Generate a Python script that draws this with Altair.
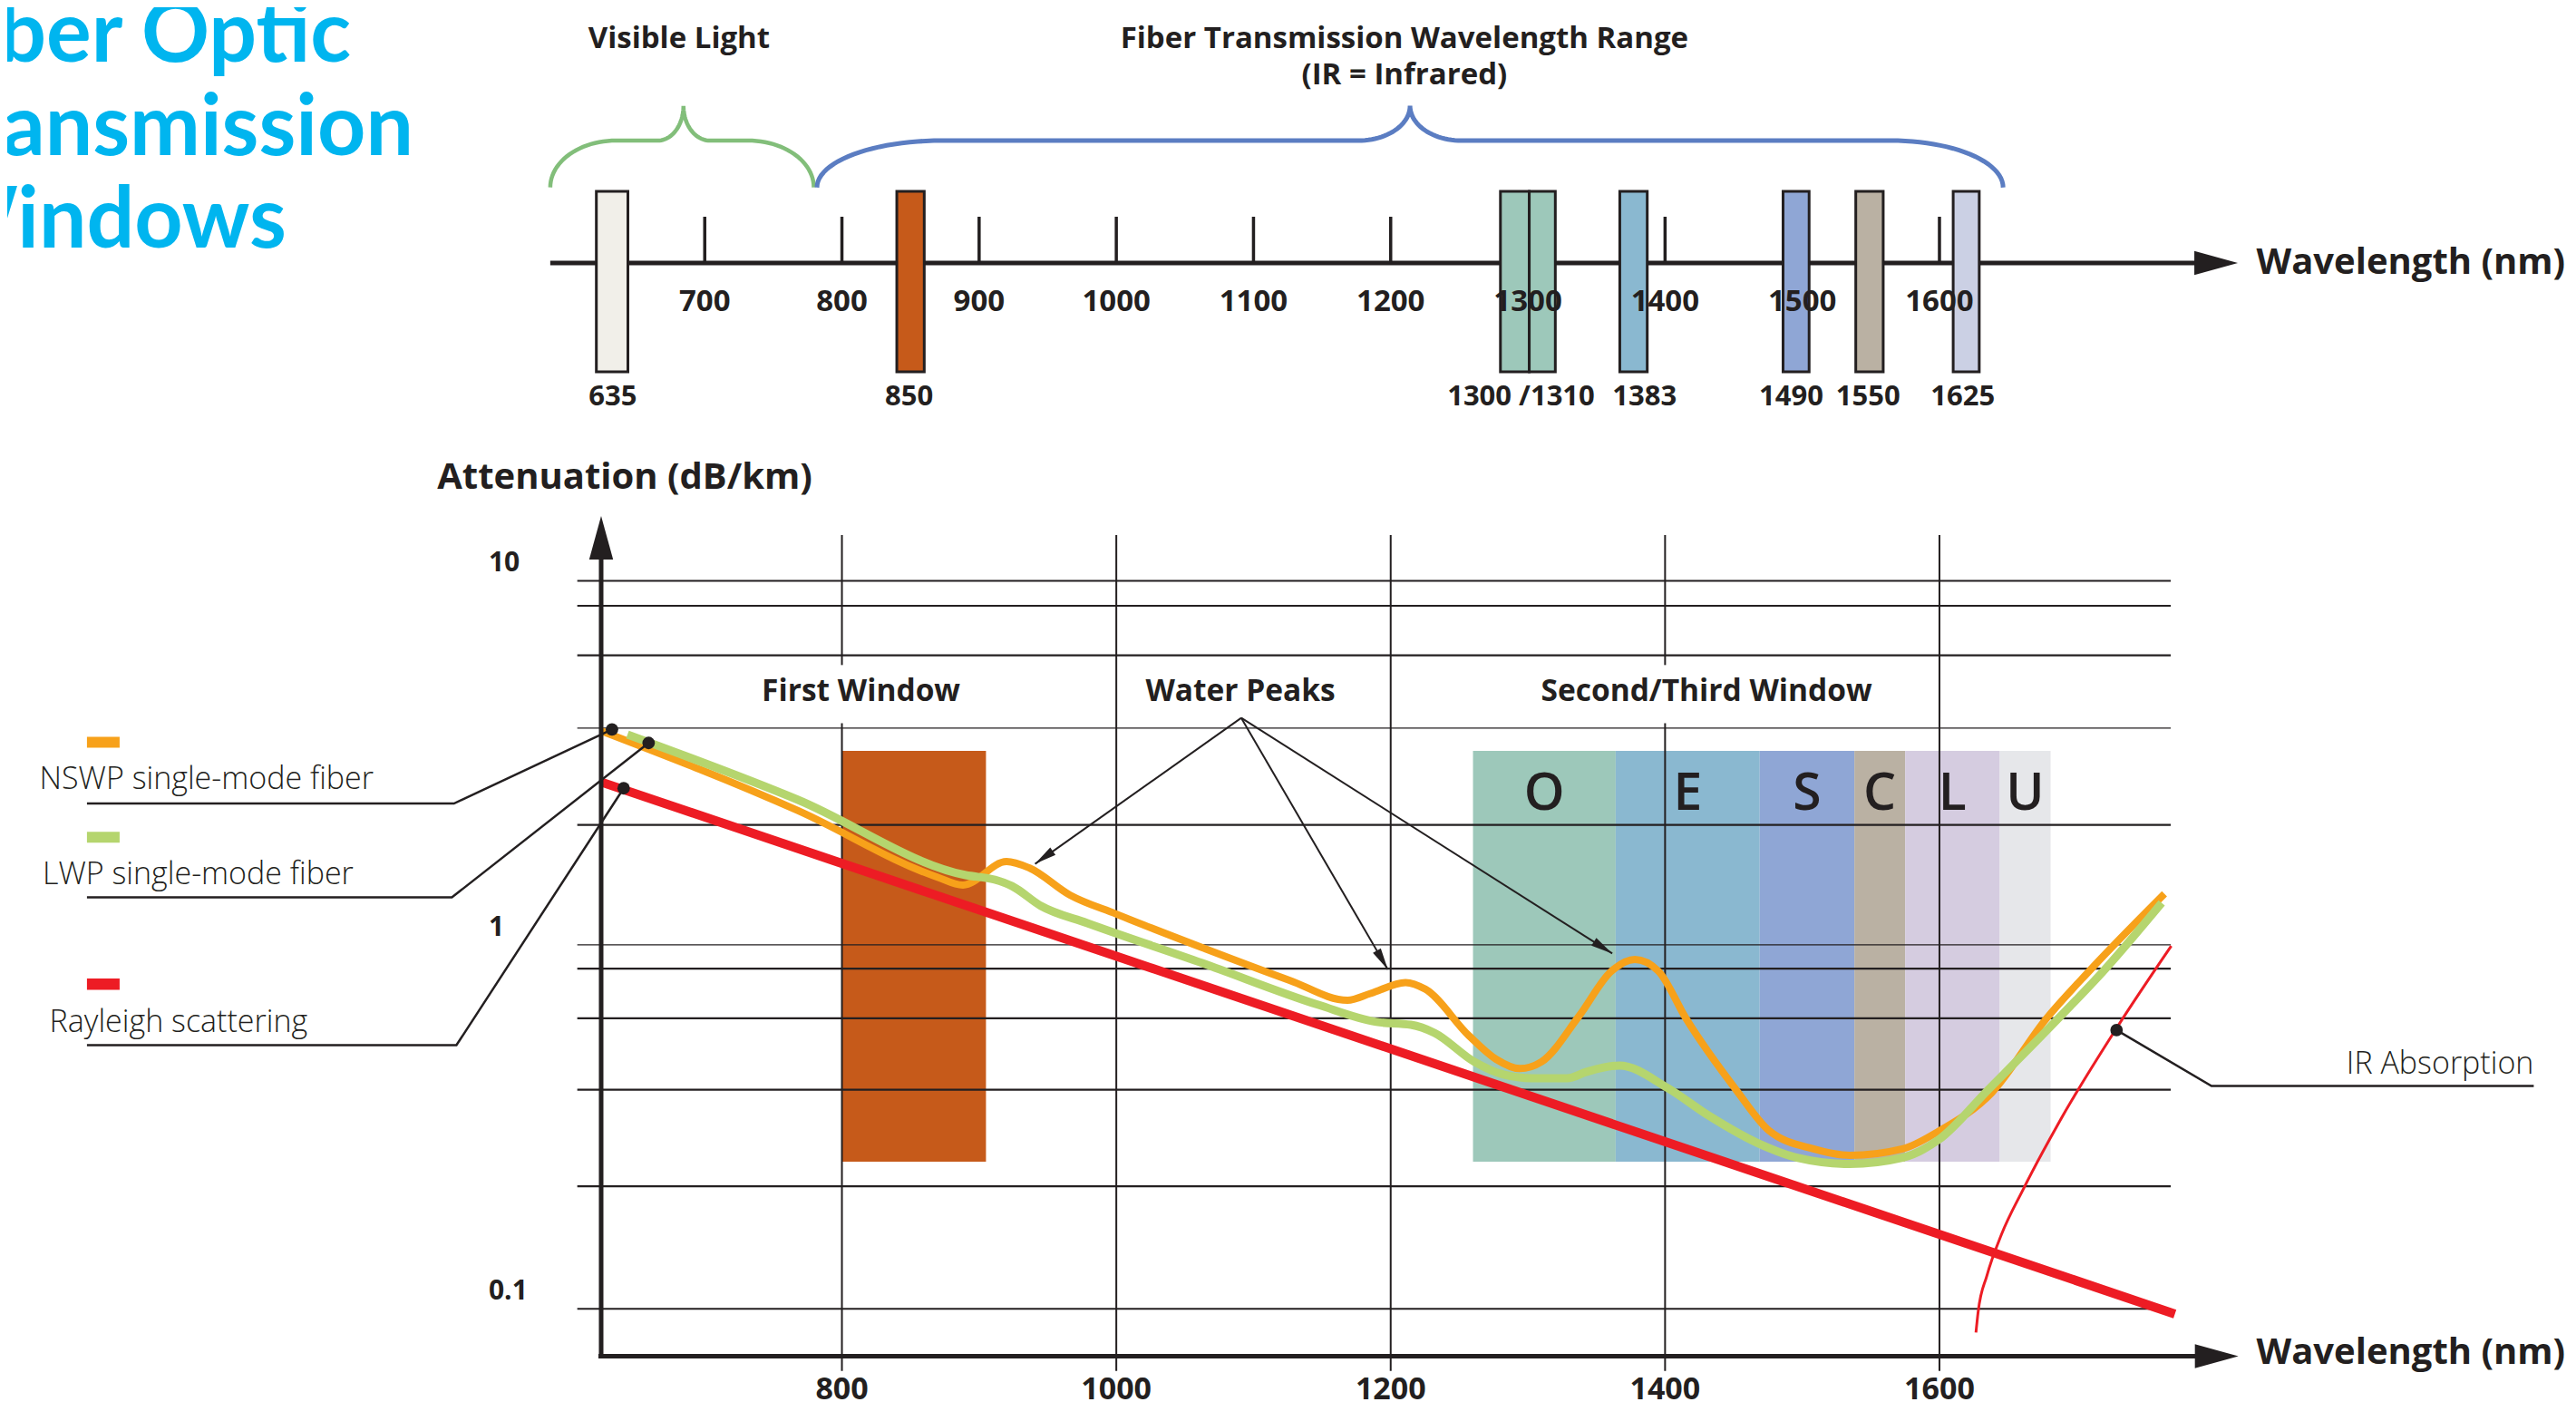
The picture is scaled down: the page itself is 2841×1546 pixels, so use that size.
import math
import altair as alt
import pandas as pd

# ---------------- canvas & scales ----------------
W, H = 2825, 1538
X_DOMAIN = [191.6, 2058.7]      # wavelength (nm) across the whole canvas
Y_DOMAIN = [0.05546, 376.5]     # attenuation (dB/km), log scale
S_DOMAIN = [-125.6, 28.2]       # layout units of the spectrum strip at the top

INK = "#231F20"
FONT = "Open Sans"

# ---------------- data ----------------
title_lines = ["Fiber Optic", "Transmission", "Windows"]

# spectrum strip
top_ticks = [700, 800, 900, 1000, 1100, 1200, 1300, 1400, 1500, 1600]
source_lo = [621, 840, 1280, 1301, 1367, 1486, 1539, 1610]
source_hi = [644, 860, 1301, 1320, 1387, 1505, 1559, 1629]
source_colors = ["#F1EFE9", "#C65A1A", "#9DC8BA", "#9DC8BA",
                 "#8AB8D0", "#8FA6D5", "#BAB1A3", "#CBD0E4"]
source_labels = ["635", "850", "1300 /1310", "1383", "1490", "1550", "1625"]
source_label_nm = [633, 849, 1295, 1385, 1492, 1548, 1617]
visible_range = [587.4, 779.5]
fiber_range = [781.8, 1646.4]

# attenuation chart
grid_db = [10, 8.54, 6.24, 3.94, 2.135, 1.0, 0.86, 0.628, 0.40, 0.217, 0.1]
grid_thin = [False, False, False, True, False, True, False, False, False, False, False]
grid_nm = [800, 1000, 1200, 1400, 1600]
y_labels = ["10", "1", "0.1"]
y_label_db = [10, 1, 0.1]

band_names = ["O", "E", "S", "C", "L", "U"]
band_lo = [1260, 1364, 1469, 1538, 1575, 1644]
band_hi = [1364, 1469, 1538, 1575, 1644, 1681]
band_colors = ["#9DC8BA", "#8AB8D0", "#8FA6D5", "#BAB1A3", "#D5CCE0", "#E6E7EA"]
first_window = [800, 905]
window_db = [0.2537, 3.411]

nswp_nm = [624.5, 768, 869.1, 888.2, 920, 936.5, 966.2, 999.9, 1062.7, 1126.2,
           1168.5, 1185.3, 1210.8, 1225.3, 1257, 1276.8, 1294.1, 1309.9, 1337,
           1360.8, 1378, 1395.2, 1415.3, 1452.1, 1475.7, 1508.2, 1534.6, 1573,
           1599.7, 1638, 1677.9, 1710.3, 1764]
nswp_db = [3.87, 2.336, 1.537, 1.459, 1.694, 1.627, 1.370, 1.215, 0.982, 0.799,
           0.704, 0.735, 0.788, 0.755, 0.563, 0.485, 0.457, 0.477, 0.635,
           0.846, 0.912, 0.846, 0.627, 0.398, 0.309, 0.275, 0.264, 0.275,
           0.308, 0.392, 0.627, 0.856, 1.381]

lwp_nm = [643.7, 768, 890.2, 911.4, 924, 945.1, 978.9, 1062.7, 1147.3, 1189.6,
          1214.7, 1231.9, 1261, 1282.2, 1303.3, 1328.4, 1342.9, 1366.6, 1402,
          1431.5, 1466.9, 1496.3, 1534.6, 1573, 1599.7, 1635.1, 1686.6, 1720.6, 1762]
lwp_db = [3.782, 2.502, 1.554, 1.510, 1.450, 1.279, 1.147, 0.891, 0.684, 0.614,
          0.603, 0.573, 0.477, 0.440, 0.430, 0.430, 0.448, 0.466, 0.404,
          0.340, 0.286, 0.260, 0.250, 0.260, 0.292, 0.398, 0.627, 0.856, 1.304]

rayleigh_nm = [624.5, 1771.6]
rayleigh_db = [2.80, 0.0968]

ir_nm = [1626.6, 1628.2, 1634.6, 1645.2, 1661.1, 1687.7, 1730.3, 1769]
ir_db = [0.0861, 0.0981, 0.1234, 0.160, 0.2131, 0.328, 0.600, 0.993]

legend_names = ["NSWP single-mode fiber", "LWP single-mode fiber", "Rayleigh scattering"]
legend_colors = ["#F7A11A", "#B5D56E", "#ED1C24"]
legend_anchor_nm = [632.4, 659.1, 640.9]     # where the leader touches each curve
legend_anchor_db = [3.907, 3.586, 2.692]

water_peak_origin = (1091.1, 4.201)
water_peak_nm = [940.8, 1197.9, 1361.5]
water_peak_db = [1.669, 0.856, 0.9465]

ir_anchor = (1729.1, 0.583)

# ---------------- helpers ----------------
XS = alt.Scale(domain=X_DOMAIN, nice=False, zero=False)
YS = alt.Scale(type="log", domain=Y_DOMAIN, nice=False)
SS = alt.Scale(domain=S_DOMAIN, nice=False, zero=False)


def ex(f="x"):
    return alt.X(f + ":Q", scale=XS, axis=None)


def ylog(f="y"):
    return alt.Y(f + ":Q", scale=YS, axis=None)


def ystrip(f="y"):
    return alt.Y(f + ":Q", scale=SS, axis=None)


def rects(df, yf, **mk):
    return alt.Chart(df).mark_rect(**mk).encode(
        x=ex("x"), x2="x2:Q", y=yf("y"), y2="y2:Q", color=alt.Color("c:N", scale=None))


def segs(df, yf, **mk):
    return alt.Chart(df).mark_rule(**mk).encode(x=ex("x"), x2="x2:Q", y=yf("y"), y2="y2:Q")


def poly(df, yf, **mk):
    return alt.Chart(df).mark_line(**mk).encode(x=ex("x"), y=yf("y"), order="i:Q", detail="g:N")


def texts(df, yf, **mk):
    base = dict(font=FONT, color=INK, baseline="alphabetic")
    base.update(mk)
    return alt.Chart(df).mark_text(**base).encode(x=ex("x"), y=yf("y"), text="t:N")


def heads(df, yf, shape, size):
    return alt.Chart(df).mark_point(shape=shape, filled=True, size=size, opacity=1,
                                    color=INK, strokeWidth=0).encode(
        x=ex("x"), y=yf("y"), angle=alt.Angle("a:Q", scale=None))


def to_px(nm, db):
    x = (nm - X_DOMAIN[0]) / (X_DOMAIN[1] - X_DOMAIN[0]) * W
    l0, l1 = math.log10(Y_DOMAIN[0]), math.log10(Y_DOMAIN[1])
    y = H - (math.log10(db) - l0) / (l1 - l0) * H
    return x, y


def heading(p, q):
    (x0, y0), (x1, y1) = to_px(*p), to_px(*q)
    return (math.degrees(math.atan2(x1 - x0, -(y1 - y0))) + 360) % 360


def brace(xl, xf0, xc0, xp, xc1, xf1, xr, s_end=8.33, s_flat=13.5, s_peak=17.33, n=24):
    pts = []
    for i in range(n + 1):
        t = i / n * math.pi / 2
        pts.append((xf0 - (xf0 - xl) * math.cos(t), s_end + (s_flat - s_end) * math.sin(t)))
    for i in range(n + 1):
        t = i / n * math.pi / 2
        pts.append((xc0 + (xp - xc0) * math.sin(t), s_peak - (s_peak - s_flat) * math.cos(t)))
    for i in range(n + 1):
        t = (1 - i / n) * math.pi / 2
        pts.append((xc1 - (xc1 - xp) * math.sin(t), s_peak - (s_peak - s_flat) * math.cos(t)))
    for i in range(n + 1):
        t = (1 - i / n) * math.pi / 2
        pts.append((xf1 + (xr - xf1) * math.cos(t), s_end + (s_flat - s_end) * math.sin(t)))
    return pts


ARROW = "M0,0L-0.55,2L0.55,2Z"
SMALL_ARROW = "M0,0L-0.42,2L0.42,2Z"

layers = []

# ================= spectrum strip (top) =================
title_df = pd.DataFrame({"x": [134.8] * 3, "y": [22.2, 11.9, 1.7], "t": title_lines})
layers.append(texts(title_df, ystrip, font="Lato", fontWeight="bold", fontSize=93,
                    color="#00B5EF", align="left"))

g_pts = brace(visible_range[0], 635.4, 665.8, 684.5, 703.7, 731.5, visible_range[1])
b_pts = brace(fiber_range[0], 873, 1176.4, 1214.1, 1251.6, 1564.4, fiber_range[1])
layers.append(poly(pd.DataFrame({"x": [p[0] for p in g_pts], "y": [p[1] for p in g_pts],
                                 "i": range(len(g_pts)), "g": "v"}), ystrip,
                   color="#82BE7A", strokeWidth=4.5))
layers.append(poly(pd.DataFrame({"x": [p[0] for p in b_pts], "y": [p[1] for p in b_pts],
                                 "i": range(len(b_pts)), "g": "f"}), ystrip,
                   color="#5B7DC2", strokeWidth=5))

layers.append(texts(pd.DataFrame({"x": [681.3, 1210, 1210], "y": [23.67, 23.67, 19.67],
                                  "t": ["Visible Light", "Fiber Transmission Wavelength Range",
                                        "(IR = Infrared)"]}),
                    ystrip, fontWeight="bold", fontSize=33, align="center"))

# axis line + ticks
layers.append(segs(pd.DataFrame({"x": [587.4], "x2": [1800], "y": [0], "y2": [0]}), ystrip,
                   color=INK, strokeWidth=5))
layers.append(heads(pd.DataFrame({"x": [1817.5], "y": [0], "a": [90]}), ystrip, ARROW, 2304))
layers.append(segs(pd.DataFrame({"x": top_ticks, "x2": top_ticks, "y": [0] * len(top_ticks),
                                 "y2": [5.1] * len(top_ticks)}), ystrip, color=INK, strokeWidth=3.5))
# source boxes
layers.append(rects(pd.DataFrame({"x": source_lo, "x2": source_hi, "y": [-12] * 8, "y2": [7.9] * 8,
                                  "c": source_colors}), ystrip, stroke=INK, strokeWidth=3))
layers.append(texts(pd.DataFrame({"x": top_ticks, "y": [-5.3] * len(top_ticks),
                                  "t": [str(v) for v in top_ticks]}),
                    ystrip, fontWeight="bold", fontSize=33, align="center"))
layers.append(texts(pd.DataFrame({"x": source_label_nm, "y": [-15.7] * len(source_labels),
                                  "t": source_labels}),
                    ystrip, fontWeight="bold", fontSize=31, align="center"))
layers.append(texts(pd.DataFrame({"x": [1831], "y": [-1.17], "t": ["Wavelength (nm)"]}),
                    ystrip, fontWeight="bold", fontSize=40, align="left"))

# ================= attenuation chart (bottom) =================
layers.append(rects(pd.DataFrame({"x": [first_window[0]], "x2": [first_window[1]],
                                  "y": [window_db[0]], "y2": [window_db[1]], "c": ["#C65A1A"]}),
                    ylog))
layers.append(rects(pd.DataFrame({"x": band_lo, "x2": band_hi, "y": [window_db[0]] * 6,
                                  "y2": [window_db[1]] * 6, "c": band_colors}), ylog))

# grid
thick = [v for v, t in zip(grid_db, grid_thin) if not t]
thin = [v for v, t in zip(grid_db, grid_thin) if t]
layers.append(segs(pd.DataFrame({"x": [607.1] * len(thick), "x2": [1768.6] * len(thick),
                                 "y": thick, "y2": thick}), ylog, color=INK, strokeWidth=2.2))
layers.append(segs(pd.DataFrame({"x": [607.1] * len(thin), "x2": [1768.6] * len(thin),
                                 "y": thin, "y2": thin}), ylog, color=INK, strokeWidth=1.1))
vx, vy, vy2 = [], [], []
for g in grid_nm:
    if g in (800, 1400):      # broken behind the window captions
        vx += [g, g]
        vy += [13.36, 4.06]
        vy2 += [5.87, 0.0675]
    else:
        vx.append(g)
        vy.append(13.36)
        vy2.append(0.0675)
layers.append(segs(pd.DataFrame({"x": vx, "x2": vx, "y": vy, "y2": vy2}), ylog,
                   color=INK, strokeWidth=2))

# band letters & captions
layers.append(texts(pd.DataFrame({"x": [(a + b) / 2 for a, b in zip(band_lo, band_hi)],
                                  "y": [2.353] * 6, "t": band_names}),
                    ylog, fontWeight=600, fontSize=57, align="center"))
layers.append(texts(pd.DataFrame({"x": [813.9, 1090.5, 1430.2], "y": [4.67] * 3,
                                  "t": ["First Window", "Water Peaks", "Second/Third Window"]}),
                    ylog, fontWeight="bold", fontSize=33.5, align="center"))

# curves
layers.append(poly(pd.DataFrame({"x": rayleigh_nm, "y": rayleigh_db, "i": [0, 1], "g": "r"}),
                   ylog, color="#ED1C24", strokeWidth=10))
layers.append(poly(pd.DataFrame({"x": ir_nm, "y": ir_db, "i": range(len(ir_nm)), "g": "ir"}),
                   ylog, color="#ED1C24", strokeWidth=3, interpolate="monotone"))
layers.append(poly(pd.DataFrame({"x": nswp_nm, "y": nswp_db, "i": range(len(nswp_nm)), "g": "n"}),
                   ylog, color="#F7A11A", strokeWidth=8, interpolate="monotone"))
layers.append(poly(pd.DataFrame({"x": lwp_nm, "y": lwp_db, "i": range(len(lwp_nm)), "g": "l"}),
                   ylog, color="#B5D56E", strokeWidth=9, interpolate="monotone"))

# axes
layers.append(segs(pd.DataFrame({"x": [624.5, 622.5], "x2": [624.5, 1800], "y": [0.0741, 0.0741],
                                 "y2": [12, 0.0741]}), ylog, color=INK, strokeWidth=5))
layers.append(heads(pd.DataFrame({"x": [624.5, 1817.9], "y": [15.07, 0.0741], "a": [0, 90]}),
                    ylog, ARROW, 2304))
layers.append(texts(pd.DataFrame({"x": [505], "y": [17.9], "t": ["Attenuation (dB/km)"]}),
                    ylog, fontWeight="bold", fontSize=40, align="left"))
layers.append(texts(pd.DataFrame({"x": [542.5] * 3, "y": y_label_db, "t": y_labels}),
                    ylog, fontWeight="bold", fontSize=30, align="left", dy=-10))
layers.append(texts(pd.DataFrame({"x": grid_nm, "y": [0.0565] * len(grid_nm),
                                  "t": [str(v) for v in grid_nm]}),
                    ylog, fontWeight="bold", fontSize=34, align="center"))
layers.append(texts(pd.DataFrame({"x": [1831], "y": [0.0705], "t": ["Wavelength (nm)"]}),
                    ylog, fontWeight="bold", fontSize=40, align="left"))

# water peak arrows
wp = pd.DataFrame({"x": [water_peak_origin[0]] * 3, "x2": water_peak_nm,
                   "y": [water_peak_origin[1]] * 3, "y2": water_peak_db})
layers.append(segs(wp, ylog, color=INK, strokeWidth=2))
layers.append(heads(pd.DataFrame({"x": water_peak_nm, "y": water_peak_db,
                                  "a": [heading(water_peak_origin, (a, b))
                                        for a, b in zip(water_peak_nm, water_peak_db)]}),
                    ylog, SMALL_ARROW, 576))

# legend with leaders
sw = pd.DataFrame({"x": [249.7] * 3, "x2": [273.5] * 3, "y": [3.479, 1.907, 0.7526],
                   "y2": [3.730, 2.044, 0.8083], "c": legend_colors})
layers.append(rects(sw, ylog))
layers.append(texts(pd.DataFrame({"x": [215.1, 217.4, 222.4], "y": [2.675, 1.464, 0.5752],
                                  "t": legend_names}),
                    ylog, fontWeight=300, fontSize=34, align="left"))
under_db = [2.445, 1.350, 0.530]
bend_nm = [517.2, 515.7, 519.0]
lx, ly, li, lg = [], [], [], []
for k in range(3):
    lx += [249.7, bend_nm[k], legend_anchor_nm[k]]
    ly += [under_db[k], under_db[k], legend_anchor_db[k]]
    li += [0, 1, 2]
    lg += [legend_names[k]] * 3
lx += [ir_anchor[0], 1798.3, 2033.2]
ly += [ir_anchor[1], 0.4094, 0.4094]
li += [0, 1, 2]
lg += ["IR"] * 3
layers.append(poly(pd.DataFrame({"x": lx, "y": ly, "i": li, "g": lg}), ylog,
                   color=INK, strokeWidth=2.5))
layers.append(alt.Chart(pd.DataFrame({"x": legend_anchor_nm + [ir_anchor[0]],
                                      "y": legend_anchor_db + [ir_anchor[1]]}))
              .mark_point(shape="circle", filled=True, size=190, color=INK, opacity=1)
              .encode(x=ex("x"), y=ylog("y")))
layers.append(texts(pd.DataFrame({"x": [2033.2], "y": [0.4436], "t": ["IR Absorption"]}),
                    ylog, fontWeight=300, fontSize=34, align="right"))

chart = (alt.layer(*layers)
         .resolve_scale(y="independent")
         .properties(width=W, height=H, padding=0,
                     autosize=alt.AutoSizeParams(type="none"), background="white")
         .configure_view(stroke=None))

chart.save("out.html", embed_options={"renderer": "svg", "actions": False})
